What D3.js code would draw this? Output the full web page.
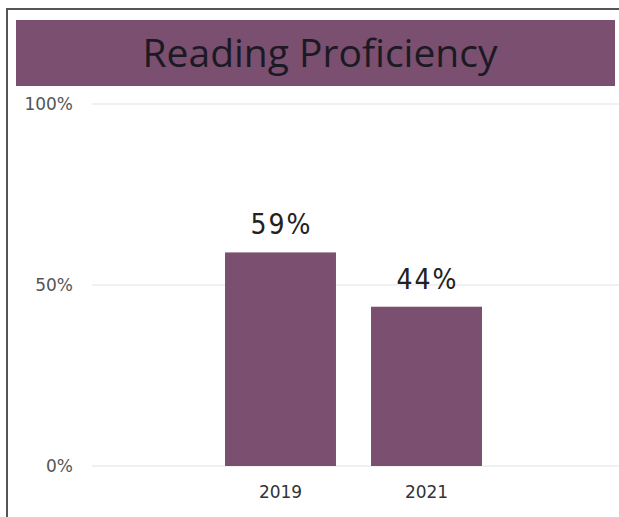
<!DOCTYPE html>
<html><head><meta charset="utf-8">
<script src="https://cdn.jsdelivr.net/npm/d3@7"></script>
<style>body{margin:0;background:#fff;}svg{display:block;}</style>
</head><body>
<svg id="chart" width="619" height="517"></svg>
<script>
const title = "Reading Proficiency";
const categories = ["2019", "2021"];
const values = [0.59, 0.44];
const valueLabels = ["59%", "44%"];
const yTicks = [0, 0.5, 1];
const yTickLabels = ["0%", "50%", "100%"];

const svg = d3.select("#chart");
const purple = "#7b4f6f";

// frame
svg.append("rect").attr("x", 7).attr("y", 9).attr("width", 640).attr("height", 540)
  .attr("fill", "#fff").attr("stroke", "#555").attr("stroke-width", 2);

// title bar
svg.append("rect").attr("x", 16).attr("y", 20).attr("width", 599).attr("height", 66).attr("fill", purple);
svg.append("text").attr("x", 320).attr("y", 67).attr("text-anchor", "middle")
  .attr("font-family", "'Open Sans', sans-serif").attr("font-size", 39).attr("fill", "#1b1a24")
  .text(title);

const y = d3.scaleLinear().domain([0, 1]).range([466, 104]);
const x = d3.scaleBand().domain(categories).range([207.5, 499.5]).paddingInner(0.24).paddingOuter(0.12);

// gridlines
svg.append("g").selectAll("line").data(yTicks).join("line")
  .attr("x1", 92).attr("x2", 619).attr("y1", d => y(d)).attr("y2", d => y(d))
  .attr("stroke", "#ececec").attr("stroke-width", 1.5);

// y axis
const yAxis = d3.axisLeft(y).tickValues(yTicks).tickFormat((d, i) => yTickLabels[i]).tickSize(0).tickPadding(0);
const gy = svg.append("g").attr("transform", "translate(73,0)").call(yAxis);
gy.select(".domain").remove();
gy.selectAll("text").attr("font-family", "'DejaVu Sans', sans-serif").attr("font-size", 17).attr("fill", "#555");

// bars
svg.append("g").selectAll("rect").data(categories).join("rect")
  .attr("x", d => x(d)).attr("width", x.bandwidth())
  .attr("y", (d, i) => y(values[i])).attr("height", (d, i) => y(0) - y(values[i]))
  .attr("fill", purple);

// value labels
svg.append("g").selectAll("text").data(categories).join("text")
  .attr("x", d => x(d) + x.bandwidth() / 2 + 1).attr("y", (d, i) => y(values[i]) - 18)
  .attr("text-anchor", "middle").attr("font-family", "'DejaVu Sans Condensed', 'DejaVu Sans', sans-serif")
  .attr("font-size", 28).attr("letter-spacing", 2).attr("fill", "#222").text((d, i) => valueLabels[i]);

// x axis
const xAxis = d3.axisBottom(x).tickSize(0).tickPadding(0);
const gx = svg.append("g").attr("transform", "translate(0,498)").call(xAxis);
gx.select(".domain").remove();
gx.selectAll("text").attr("dy", 0).attr("font-family", "'DejaVu Sans', sans-serif").attr("font-size", 17).attr("fill", "#333");
</script>
</body></html>
